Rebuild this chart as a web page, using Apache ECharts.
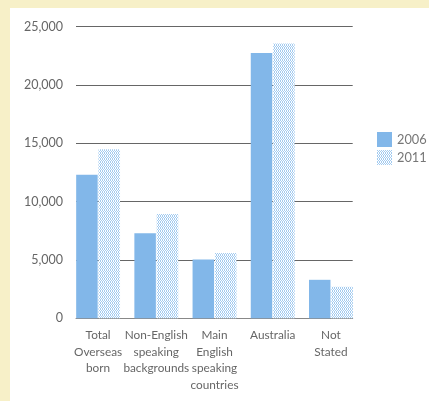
<!DOCTYPE html>
<html><head><meta charset="utf-8">
<script src="https://cdn.jsdelivr.net/npm/echarts@6/dist/echarts.min.js"></script>
<style>
html,body{margin:0;padding:0;background:#f7f0c8;}
#bg{position:absolute;left:10px;top:8px;width:419px;height:393px;background:#fff;}
#c{position:absolute;left:0;top:0;width:429px;height:401px;}
</style></head>
<body><div id="bg"></div><div id="c"></div>
<script>
const categories = ['Total\nOverseas\nborn', 'Non-English\nspeaking\nbackgrounds', 'Main\nEnglish\nspeaking\ncountries', 'Australia', 'Not\nStated'];
const values2006 = [12300, 7300, 5050, 22750, 3300];
const values2011 = [14500, 8950, 5600, 23550, 2700];
const yTicks = [0, 5000, 10000, 15000, 20000, 25000];

function makePattern() {
  const cv = document.createElement('canvas');
  cv.width = 4; cv.height = 3;
  const ctx = cv.getContext('2d');
  ctx.fillStyle = '#ffffff';
  ctx.fillRect(0, 0, 4, 3);
  ctx.fillStyle = '#a3cbf0';
  const pts = [[0,0],[2,0],[1,1],[3,1],[0,2],[2,2]];
  pts.forEach(p => ctx.fillRect(p[0], p[1], 1, 1));
  return cv;
}
const pat = { image: makePattern(), repeat: 'repeat' };

const chart = echarts.init(document.getElementById('c'), null, {renderer: 'canvas'});
const font = 'Lato, "Open Sans", sans-serif';
chart.setOption({
  animation: false,
  textStyle: { fontFamily: font },
  grid: [
    { left: 76, right: 76.3, top: 26.7, bottom: 82.7, containLabel: false },
    { left: 69, right: 69, top: 26.7, bottom: 82.7, containLabel: false }
  ],
  legend: {
    orient: 'vertical', left: 372, top: 127, itemWidth: 15, itemHeight: 15, itemGap: 3,
    icon: 'rect',
    textStyle: { fontSize: 12.8, color: '#777', fontFamily: font },
    data: ['2006', '2011']
  },
  xAxis: [
    { gridIndex: 0, type: 'category', data: categories,
      axisLine: { show: true, lineStyle: { color: '#888', width: 1 } },
      axisTick: { show: false }, axisLabel: { show: false }, splitLine: { show: false } },
    { gridIndex: 1, type: 'category', data: categories,
      axisLine: { show: false },
      axisTick: { show: false },
      axisLabel: { interval: 0, color: '#666', fontSize: 11.8, lineHeight: 16.5, margin: 9, fontFamily: font }
    }
  ],
  yAxis: [
    { gridIndex: 0, type: 'value', min: 0, max: 25000, interval: 5000,
      axisLine: { show: false }, axisTick: { show: false },
      axisLabel: { color: '#666', fontSize: 12.5, margin: 13, fontFamily: font,
        formatter: v => yTicks.includes(v) ? v.toLocaleString('en-US') : '' },
      splitLine: { show: true, lineStyle: { color: '#666', width: 1 } }
    },
    { gridIndex: 1, type: 'value', min: 0, max: 25000, interval: 5000, show: false, splitLine: { show: false } }
  ],
  series: [
    { name: '2006', type: 'bar', xAxisIndex: 1, yAxisIndex: 1, data: values2006,
      barWidth: 21.5, barGap: '4%', itemStyle: { color: '#82b7e9' } },
    { name: '2011', type: 'bar', xAxisIndex: 1, yAxisIndex: 1, data: values2011,
      barWidth: 21.5, barGap: '4%', itemStyle: { color: pat } }
  ]
});
</script></body></html>
